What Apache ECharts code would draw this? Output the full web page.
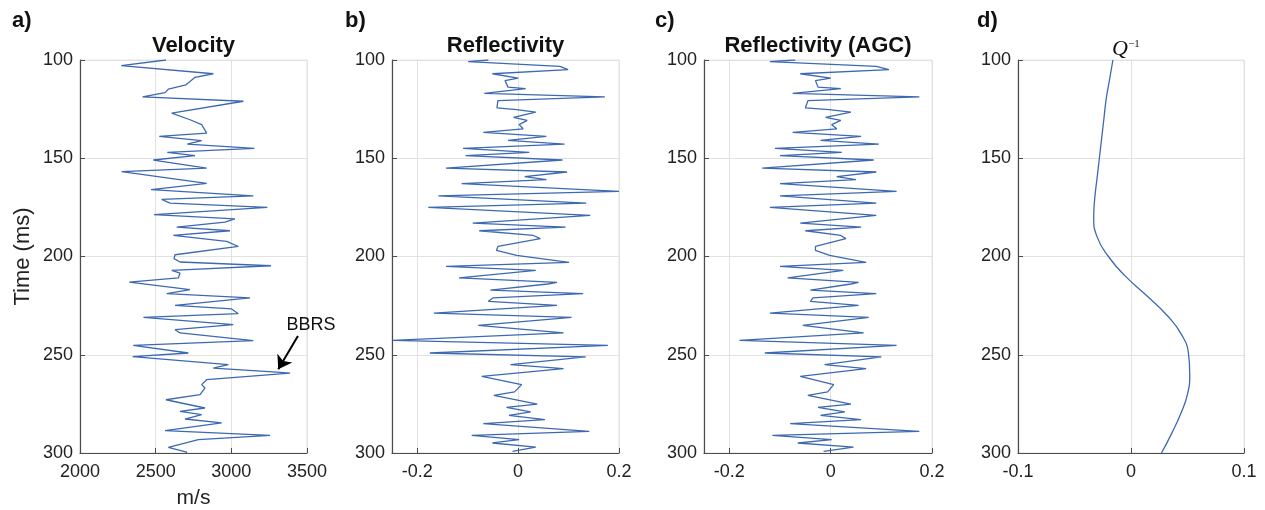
<!DOCTYPE html>
<html><head><meta charset="utf-8">
<script src="https://cdn.jsdelivr.net/npm/echarts@6/dist/echarts.min.js"></script>
<style>html,body{margin:0;padding:0;background:#fff}#c{width:1265px;height:510px}</style>
</head><body><div id="c"></div>
<script>
// ---- data ----
const velTime = [100,102.9,107,108.8,110.9,112.6,114.8,116.6,118.8,121,127,130.4,132.9,137.2,138.9,141,142.8,145,147,148.7,150.9,155,156.8,162.8,166,169.1,170.9,172.8,175,178.7,180.9,182.5,185,186.9,189.3,192.3,194.9,199.1,201.1,202.8,204.7,207.1,208.4,210.9,213,216.9,218.9,221.1,224.9,226.7,229.1,231,234.7,237.2,238.9,242.8,245.2,249.1,251,255,256.8,258.8,259.3,262.7,265.2,266.9,270.3,272.9,277.1,278.8,280.5,282.7,284.7,288.6,291,293.2,297.1,299.5,300];
const velValue = [2568,2273,2881,2760,2727,2700,2584,2562,2414,3080,2606,2727,2804,2837,2524,2804,2709,3152,2577,2760,2485,2837,2275,2837,2470,3145,2540,2595,3238,2489,3024,2958,2639,2991,2617,2969,3046,2628,2621,2661,3262,2606,2661,2650,2326,2727,2573,3123,2628,3002,3046,2419,3013,2628,2661,3145,2352,2716,2348,2980,2881,3300,3388,2837,2804,2826,2793,2568,2826,2661,2804,2694,2936,2562,3256,2782,2584,2705,2700];

const reflTime = [100,100.8,103.2,104.9,107,109.2,110.5,113.8,114.6,117,118.8,120.7,124.4,125.3,126.5,129.2,130.7,132.9,135,136.8,138.9,140.9,142.8,145,147,148.7,150.9,155,157,159.4,160.9,162.9,166.9,169.1,172.8,175,179.1,183,185,186.9,189.3,190.9,194.9,196.9,199.4,203,205,207.1,210.9,213.2,214,217.1,218.9,221.1,222.8,224.9,228.8,231,235,238.9,242.7,245.2,249.1,251.1,255,257.1,261,265.2,268.9,270.7,275.1,276.8,279.1,280.8,283,285.1,289,291,293.2,294.9,297,299.2];
const reflValue = [-0.059,-0.099,0.083,0.099,-0.051,0,-0.026,-0.02,0.015,-0.067,0.172,-0.04,-0.042,-0.003,0.035,-0.009,0.018,0.002,0.01,-0.069,0.056,-0.02,0.092,-0.109,0.022,-0.104,0.088,-0.143,0.097,0.013,0.056,-0.112,0.2,-0.158,0.135,-0.178,0.143,-0.09,0.094,-0.077,0.03,0.044,-0.04,-0.043,-0.003,0.101,-0.143,0.035,-0.117,0.077,0.059,-0.055,0.129,-0.05,-0.059,0.077,-0.167,0.106,-0.079,0.09,-0.249,0.178,-0.175,0.134,-0.015,0.09,-0.072,0.007,-0.007,-0.048,0.038,-0.023,0.025,-0.018,0.053,-0.069,0.141,-0.092,0.002,-0.051,0.035,-0.011];
const agcValue = [-0.07,-0.12,0.09,0.115,-0.06,0,-0.03,-0.025,0.02,-0.075,0.175,-0.045,-0.05,-0.003,0.04,-0.01,0.02,0.002,0.012,-0.075,0.06,-0.02,0.095,-0.11,0.022,-0.1,0.085,-0.135,0.09,0.012,0.05,-0.1,0.13,-0.1,0.09,-0.12,0.09,-0.06,0.06,-0.05,0.02,0.03,-0.03,-0.03,-0.002,0.07,-0.1,0.025,-0.085,0.055,0.04,-0.04,0.09,-0.035,-0.04,0.055,-0.12,0.075,-0.055,0.065,-0.18,0.13,-0.13,0.1,-0.012,0.07,-0.06,0.006,-0.006,-0.045,0.04,-0.025,0.028,-0.02,0.06,-0.08,0.175,-0.115,0.002,-0.065,0.045,-0.014];

const qTime = [100,110,120,130,140,150,160,170,180,190,200,210,220,230,240,250,260,270,280,290,300];
const qValue = [-0.016,-0.019,-0.022,-0.024,-0.026,-0.028,-0.030,-0.032,-0.033,-0.030,-0.020,-0.005,0.014,0.032,0.045,0.051,0.052,0.050,0.044,0.036,0.027];

const timeTicks = [100,150,200,250,300];
const velTicks = [2000,2500,3000,3500];
const reflTicks = [-0.2,0,0.2];
const qTicks = [-0.1,0,0.1];
const panelTitles = ['Velocity','Reflectivity','Reflectivity (AGC)'];
const panelLetters = ['a)','b)','c)','d)'];

// ---- layout ----
const FONT = '"Liberation Sans", Arial, Helvetica, sans-serif';
const grids = [
  {left:80, top:60, width:227, height:393},
  {left:392, top:60, width:227, height:393},
  {left:704, top:60, width:228, height:393},
  {left:1018, top:60, width:226, height:393}
];
const xRanges = [[2000,3500,velTicks],[-0.25,0.2,reflTicks],[-0.25,0.2,reflTicks],[-0.1,0.1,qTicks]];
const lineColor = '#3d69b2';
const gridColor = '#e2e2e2';
const axisColor = '#4a4a4a';

function pairs(xs, ts){ return ts.map((t,i)=>[xs[i], t]); }

const xAxis = xRanges.map((r,i)=>({
  type:'value', gridIndex:i, min:r[0], max:r[1], position:'bottom',
  axisLine:{show:true, onZero:false, lineStyle:{color:axisColor, width:1.2}},
  axisTick:{show:true, inside:true, length:5, customValues:r[2], lineStyle:{color:axisColor}},
  axisLabel:{show:true, customValues:r[2], margin:10, fontSize:18, color:'#222', fontFamily:FONT,
    formatter:v=>String(Math.round(v*1000)/1000)},
  splitLine:{show:true, lineStyle:{color:gridColor, width:1}},
  name: i===0 ? 'm/s' : '', nameLocation:'middle', nameGap:35,
  nameTextStyle:{fontSize:21, color:'#222', fontFamily:FONT}
}));
const yAxis = grids.map((g,i)=>({
  type:'value', gridIndex:i, inverse:true, min:100, max:300, interval:50,
  axisLine:{show:true, onZero:false, lineStyle:{color:axisColor, width:1.2}},
  axisTick:{show:true, inside:true, length:5, lineStyle:{color:axisColor}},
  axisLabel:{show:true, margin:7, fontSize:18, color:'#222', fontFamily:FONT},
  splitLine:{show:true, lineStyle:{color:gridColor, width:1}},
  name: i===0 ? 'Time (ms)' : '', nameLocation:'middle', nameGap:46, nameRotate:90,
  nameTextStyle:{fontSize:22, color:'#222', fontFamily:FONT}
}));

const baseLine = {type:'line', showSymbol:false, symbol:'none', animation:false, silent:true,
  lineStyle:{color:lineColor, width:1.3}, itemStyle:{color:lineColor}};

const series = [
  Object.assign({}, baseLine, {xAxisIndex:0, yAxisIndex:0, data:pairs(velValue, velTime),
    markLine:{silent:true, animation:false, symbol:['none','arrow'], symbolSize:13,
      lineStyle:{color:'#000', width:2, type:'solid'}, label:{show:false},
      data:[[{coord:[3440,240.4]},{coord:[3310,257.4]}]]}}),
  Object.assign({}, baseLine, {xAxisIndex:1, yAxisIndex:1, data:pairs(reflValue, reflTime)}),
  Object.assign({}, baseLine, {xAxisIndex:2, yAxisIndex:2, data:pairs(agcValue, reflTime)}),
  Object.assign({}, baseLine, {xAxisIndex:3, yAxisIndex:3, smooth:0.5, data:pairs(qValue, qTime)})
];

const chart = echarts.init(document.getElementById('c'), null, {renderer:'canvas'});
chart.setOption({
  backgroundColor:'#fff', animation:false,
  grid: grids.map(g=>Object.assign({show:true, borderColor:gridColor, borderWidth:1, backgroundColor:'transparent',
    containLabel:false, outerBoundsMode:'none'}, g)),
  xAxis, yAxis, series
});

// ---- texts: titles, panel letters, annotation ----
const graphics = [];
panelTitles.forEach((t,i)=>{
  const g = grids[i];
  graphics.push({type:'text', x:g.left+g.width/2, y:46, silent:true,
    style:{text:t, font:'bold 22px '+FONT, fill:'#111', textAlign:'center', textVerticalAlign:'middle'}});
});
const letterX = [12, 345, 655, 977];
panelLetters.forEach((t,i)=>{
  graphics.push({type:'text', x:letterX[i], y:21, silent:true,
    style:{text:t, font:'bold 22px '+FONT, fill:'#111', textAlign:'left', textVerticalAlign:'middle'}});
});
graphics.push({type:'text', x:1120, y:49, silent:true,
  style:{text:'Q', font:'italic 22px "Liberation Serif", "DejaVu Serif", serif', fill:'#111', textAlign:'center', textVerticalAlign:'middle'}});
graphics.push({type:'text', x:1134, y:44, silent:true,
  style:{text:'\u22121', font:'11px "Liberation Serif", "DejaVu Serif", serif', fill:'#111', textAlign:'center', textVerticalAlign:'middle'}});
const bb = chart.convertToPixel({gridIndex:0}, [3526, 234.7]);
graphics.push({type:'text', x:bb[0], y:bb[1], silent:true,
  style:{text:'BBRS', font:'18px '+FONT, fill:'#111', textAlign:'center', textVerticalAlign:'middle'}});
chart.setOption({graphic:graphics});
</script>
</body></html>
